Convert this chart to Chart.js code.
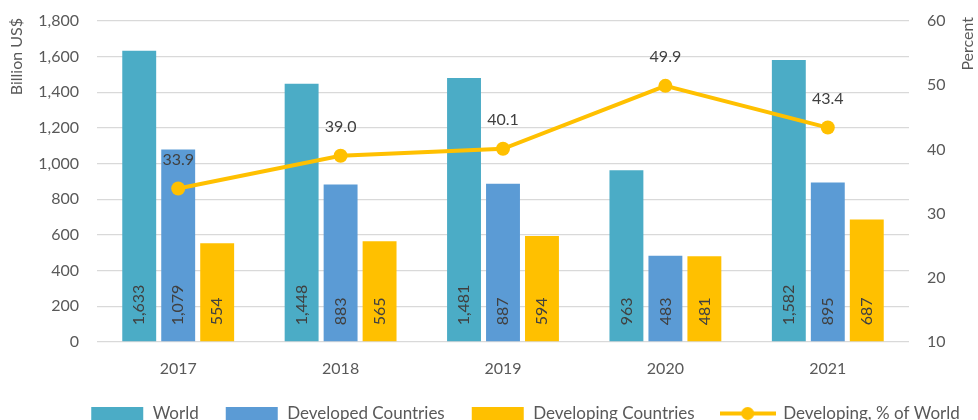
<!DOCTYPE html>
<html>
<head>
<meta charset="utf-8">
<script src="https://cdn.jsdelivr.net/npm/chart.js@4"></script>
<style>
  html, body { margin: 0; padding: 0; background: #fff; overflow: hidden; }
  #wrap { width: 978px; height: 432px; position: relative; }
</style>
</head>
<body>
<div id="wrap"><canvas id="myChart"></canvas></div>
<script>
const years = ["2017", "2018", "2019", "2020", "2021"];
const world = [1633, 1448, 1481, 963, 1582];
const developed = [1079, 883, 887, 483, 895];
const developing = [554, 565, 594, 481, 687];
const developingPct = [33.9, 39.0, 40.1, 49.9, 43.4];
const leftTicks = [0, 200, 400, 600, 800, 1000, 1200, 1400, 1600, 1800];
const rightTicks = [10, 20, 30, 40, 50, 60];

const FONT = "Lato";
const TXT = "#595959";

// legend markers
function boxMarker(color) {
  const c = document.createElement("canvas");
  c.width = 54; c.height = 13;
  const x = c.getContext("2d");
  x.fillStyle = color;
  x.fillRect(1, 0, 52, 13);
  return c;
}
function lineMarker(color) {
  const c = document.createElement("canvas");
  c.width = 56; c.height = 15;
  const x = c.getContext("2d");
  x.strokeStyle = color;
  x.lineWidth = 4;
  x.beginPath(); x.moveTo(0, 7.5); x.lineTo(56, 7.5); x.stroke();
  x.fillStyle = color;
  x.beginPath(); x.arc(28, 7.5, 6.5, 0, Math.PI * 2); x.fill();
  return c;
}

// labels on bars and points, axis titles
const labelPlugin = {
  id: "labels",
  afterLayout(chart) {
    // legend sits a bit right of centre in the original
    chart.legend.left += 36;
    chart.legend.right += 36;
  },
  afterDatasetsDraw(chart) {
    const ctx = chart.ctx;
    ctx.save();
    ctx.font = "16px " + FONT;
    ctx.fillStyle = "#404040";
    chart.data.datasets.forEach((ds, i) => {
      const meta = chart.getDatasetMeta(i);
      meta.data.forEach((el, j) => {
        if (ds.type === "line") {
          ctx.textAlign = "center";
          ctx.textBaseline = "middle";
          ctx.fillText(ds.data[j].toFixed(1), el.x, el.y - 29);
        } else {
          ctx.save();
          ctx.translate(el.x, el.base - 16);
          ctx.rotate(-Math.PI / 2);
          ctx.textAlign = "left";
          ctx.textBaseline = "middle";
          ctx.fillText(ds.data[j].toLocaleString("en-US"), 0, 0);
          ctx.restore();
        }
      });
    });
    ctx.fillStyle = TXT;
    ctx.font = "16px " + FONT;
    ctx.textAlign = "right";
    ctx.textBaseline = "middle";
    ctx.save();
    ctx.translate(17, 18);
    ctx.rotate(-Math.PI / 2);
    ctx.fillText("Billion US$", 0, 0);
    ctx.restore();
    ctx.save();
    ctx.translate(968, 17);
    ctx.rotate(-Math.PI / 2);
    ctx.fillText("Percent", 0, 0);
    ctx.restore();
    ctx.restore();
  }
};

const ctx = document.getElementById("myChart").getContext("2d");
const myChart = new Chart(ctx, {
  type: "bar",
  data: {
    labels: years,
    datasets: [
      { label: "World", data: world, backgroundColor: "#4BACC6", order: 1, yAxisID: "y",
        categoryPercentage: 0.72, barPercentage: 0.87 },
      { label: "Developed Countries", data: developed, backgroundColor: "#5B9BD5", order: 1, yAxisID: "y",
        categoryPercentage: 0.72, barPercentage: 0.87 },
      { label: "Developing Countries", data: developing, backgroundColor: "#FFC000", order: 1, yAxisID: "y",
        categoryPercentage: 0.72, barPercentage: 0.87 },
      { type: "line", label: "Developing, % of World", data: developingPct, yAxisID: "y1", order: 0,
        borderColor: "#FFC000", backgroundColor: "#FFC000", borderWidth: 4,
        pointRadius: 7, pointHoverRadius: 7, pointBackgroundColor: "#FFC000", pointBorderWidth: 0 }
    ]
  },
  options: {
    responsive: true,
    maintainAspectRatio: false,
    animation: false,
    layout: { padding: { top: 21, left: 0, right: 0, bottom: 0 } },
    plugins: {
      tooltip: { enabled: false },
      legend: {
        position: "bottom",
        labels: {
          usePointStyle: true,
          pointStyleWidth: 54,
          padding: 26,
          color: TXT,
          font: { family: FONT, size: 17 },
          sort: (a, b) => a.datasetIndex - b.datasetIndex,
          generateLabels(chart) {
            return chart.data.datasets.map((ds, i) => ({
              text: ds.label,
              datasetIndex: i,
              fontColor: TXT,
              lineWidth: 0,
              pointStyle: ds.type === "line" ? lineMarker(ds.borderColor) : boxMarker(ds.backgroundColor)
            }));
          }
        }
      }
    },
    scales: {
      x: {
        grid: { display: false },
        border: { display: false },
        ticks: { color: TXT, font: { family: FONT, size: 16 }, padding: 9 },
        afterFit(s) { s.height = 37; }
      },
      y: {
        position: "left",
        min: 0, max: 1800,
        afterBuildTicks(s) { s.ticks = leftTicks.map(v => ({ value: v })); },
        grid: { color: "#D9D9D9", lineWidth: 1.3, drawTicks: false },
        border: { display: false },
        ticks: { color: TXT, font: { family: FONT, size: 16 }, padding: 18,
          callback: v => v.toLocaleString("en-US") },
        afterFit(s) { s.width = 97; s.paddingTop = 0; s.paddingBottom = 0; }
      },
      y1: {
        position: "right",
        min: 10, max: 60,
        afterBuildTicks(s) { s.ticks = rightTicks.map(v => ({ value: v })); },
        grid: { display: false, drawTicks: false },
        border: { display: false },
        ticks: { color: TXT, font: { family: FONT, size: 16 }, padding: 18 },
        afterFit(s) { s.width = 69; s.paddingTop = 0; s.paddingBottom = 0; }
      }
    }
  },
  plugins: [labelPlugin]
});
</script>
</body>
</html>
